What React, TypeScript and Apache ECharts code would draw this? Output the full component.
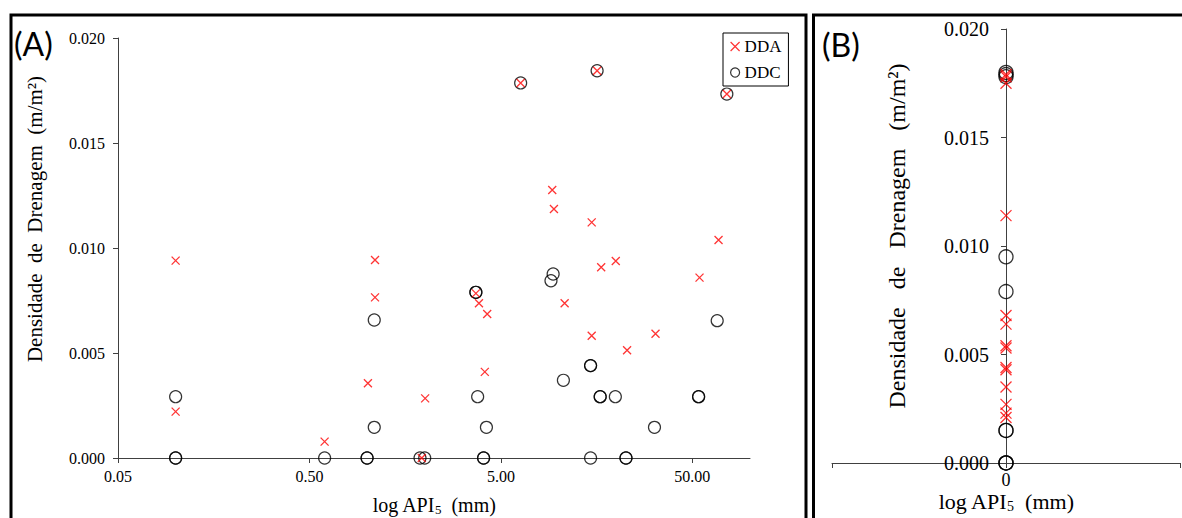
import React, { useEffect, useRef } from "react";
import * as echarts from "echarts";

// ---- Panel (A): log API5 (mm) vs Densidade de Drenagem ----
const apiDDA = [0.1, 0.1, 0.6, 1.1, 1.1, 1.01, 2.01, 1.93, 3.7, 3.84, 4.24, 4.12, 10.76, 16.7, 19.9, 68.5, 54.5, 14.9, 32.1, 22.8, 6.34, 15.9, 75.7, 9.27, 9.46, 14.9];
const ddaA = [0.0094, 0.00221, 0.00078, 0.00943, 0.00765, 0.00356, 0.00284, 0.0, 0.00784, 0.00737, 0.00686, 0.0041, 0.00737, 0.00908, 0.00938, 0.01038, 0.00859, 0.00582, 0.00592, 0.00513, 0.01786, 0.01844, 0.01733, 0.01276, 0.01186, 0.01122];

const apiDDC = [0.1, 0.1, 0.1, 0.6, 1.09, 1.09, 1.0, 1.0, 1.89, 2.0, 3.7, 3.7, 3.78, 4.2, 4.06, 4.06, 9.37, 9.13, 10.6, 14.7, 14.7, 16.5, 16.5, 19.8, 53.9, 53.9, 31.7, 14.7, 22.5, 22.5, 67.4, 6.34, 15.9, 75.7];
const ddcA = [0.00292, 0.0, 0.0, 0.0, 0.00657, 0.00146, 0.0, 0.0, 0.0, 0.0, 0.00789, 0.00789, 0.00292, 0.00146, 0.0, 0.0, 0.00876, 0.00844, 0.0037, 0.0044, 0.0044, 0.00292, 0.00292, 0.00292, 0.00292, 0.00292, 0.00146, 0.0, 0.0, 0.0, 0.00654, 0.01786, 0.01844, 0.01733];

// ---- Panel (B): all points at log API5 = 0 ----
const ddaB = [0.0179, 0.0178, 0.0175, 0.0114, 0.0068, 0.0064, 0.0054, 0.0053, 0.0044, 0.0043, 0.0035, 0.0027, 0.0023, 0.0021];
const ddcB = [0.018, 0.0179, 0.0178, 0.0095, 0.0079, 0.0015, 0.0015, 0.0, 0.0, 0.0];

const xTicksA = [0.05, 0.5, 5, 50];
const seriesNames = ["DDA", "DDC"];

const serif = "'Liberation Serif', 'Times New Roman', serif";
const crossPath = "path://M0,0L10,10M10,0L0,10";
const axisColor = "#404040";

export default function App() {
  const ref = useRef<HTMLDivElement>(null);

  useEffect(() => {
    if (!ref.current) return;
    const chart = echarts.init(ref.current, null, { renderer: "svg" });

    const lineStyle = { color: axisColor, width: 1 };
    const nameStyle = (size: number, subSize: number, pad: number) => ({
      fontFamily: serif,
      fontSize: size,
      color: "#000",
      rich: {
        sub: { fontSize: subSize, fontFamily: serif, color: "#000", padding: [pad, 0, 0, 0] },
      },
    });

    const option: any = {
      animation: false,
      backgroundColor: "#ffffff",
      grid: [
        { left: 118, top: 38, width: 632, height: 420, outerBoundsMode: "none", containLabel: false },
        { left: 832, top: 29, width: 348, height: 434, outerBoundsMode: "none", containLabel: false },
        { left: 1006, top: 29, width: 174, height: 434, outerBoundsMode: "none", containLabel: false },
      ],
      xAxis: [
        {
          type: "log",
          gridIndex: 0,
          logBase: 10,
          min: 0.05,
          max: 100,
          interval: 1,
          axisLine: { show: true, onZero: false, lineStyle },
          axisTick: { show: true, length: 5, lineStyle, customValues: xTicksA },
          axisLabel: {
            customValues: xTicksA,
            fontFamily: serif,
            fontSize: 16,
            color: "#000",
            margin: 10,
            formatter: (v: number) => (v >= 99 ? "" : v.toFixed(2)),
          },
          splitLine: { show: false },
          minorTick: { show: false },
          name: "log API{sub|5}\u00A0 (mm)",
          nameLocation: "middle",
          nameGap: 35,
          nameMoveOverlap: false,
          nameTextStyle: nameStyle(20, 13, 10),
        },
        {
          type: "value",
          gridIndex: 1,
          min: -1,
          max: 1,
          interval: 1,
          axisLine: { show: true, onZero: false, lineStyle },
          axisTick: { show: true, length: 5, lineStyle },
          axisLabel: {
            fontFamily: serif,
            fontSize: 18,
            color: "#000",
            margin: 8,
            formatter: (v: number) => (Math.abs(v) < 1e-9 ? "0" : ""),
          },
          splitLine: { show: false },
          name: "log API{sub|5}\u00A0 (mm)",
          nameLocation: "middle",
          nameGap: 27,
          nameMoveOverlap: false,
          nameTextStyle: nameStyle(22, 14, 9),
        },
        {
          type: "value",
          gridIndex: 2,
          min: 0,
          max: 1,
          show: false,
        },
      ],
      yAxis: [
        {
          type: "value",
          gridIndex: 0,
          min: 0,
          max: 0.02,
          interval: 0.005,
          axisLine: { show: true, onZero: false, lineStyle },
          axisTick: { show: true, length: 5, lineStyle },
          axisLabel: {
            fontFamily: serif,
            fontSize: 16,
            color: "#000",
            margin: 13,
            formatter: (v: number) => v.toFixed(3),
          },
          splitLine: { show: false },
          name: "Densidade\u00A0 de\u00A0 Drenagem\u00A0 (m/m²)",
          nameLocation: "middle",
          nameGap: 73,
          nameMoveOverlap: false,
          nameTextStyle: { fontFamily: serif, fontSize: 21, color: "#000", padding: [0, 0, 0, 58] },
        },
        {
          type: "value",
          gridIndex: 1,
          min: 0,
          max: 0.02,
          show: false,
        },
        {
          type: "value",
          gridIndex: 2,
          min: 0,
          max: 0.02,
          interval: 0.005,
          axisLine: { show: true, onZero: false, lineStyle },
          axisTick: { show: true, length: 5, lineStyle },
          axisLabel: {
            fontFamily: serif,
            fontSize: 20,
            color: "#000",
            margin: 17,
            formatter: (v: number) => v.toFixed(3),
          },
          splitLine: { show: false },
          name: "Densidade\u00A0 \u00A0de\u00A0 \u00A0Drenagem\u00A0 \u00A0(m/m²)",
          nameLocation: "middle",
          nameGap: 97,
          nameMoveOverlap: false,
          nameTextStyle: { fontFamily: serif, fontSize: 24, color: "#000", padding: [0, 0, 0, 20] },
        },
      ],
      legend: {
        data: seriesNames,
        orient: "vertical",
        left: 723,
        top: 33,
        padding: [5, 7, 5, 7],
        itemGap: 9,
        itemWidth: 9,
        itemHeight: 9,
        borderColor: "#000",
        borderWidth: 1,
        backgroundColor: "#fff",
        itemStyle: { borderWidth: 1.2 },
        textStyle: { fontFamily: serif, fontSize: 17, color: "#000" },
      },
      graphic: [
        {
          type: "rect",
          silent: true,
          shape: { x: 11, y: 15, width: 795, height: 530 },
          style: { fill: "none", stroke: "#000", lineWidth: 3 },
        },
        {
          type: "rect",
          silent: true,
          shape: { x: 813.5, y: 15, width: 420, height: 530 },
          style: { fill: "none", stroke: "#000", lineWidth: 3 },
        },
        {
          type: "text",
          left: 14,
          top: 27,
          style: { text: "(A)", font: "32px Lato", fill: "#000" },
        },
        {
          type: "text",
          left: 822,
          top: 28,
          style: { text: "(B)", font: "32px Lato", fill: "#000" },
        },
      ],
      series: [
        {
          type: "scatter",
          name: seriesNames[0],
          xAxisIndex: 0,
          yAxisIndex: 0,
          symbol: crossPath,
          symbolSize: 8,
          itemStyle: { color: "rgba(0,0,0,0)", borderColor: "#ff0000", borderWidth: 1.3 },
          data: apiDDA.map((x, i) => [x, ddaA[i]]),
          z: 3,
        },
        {
          type: "scatter",
          name: seriesNames[1],
          xAxisIndex: 0,
          yAxisIndex: 0,
          symbol: "circle",
          symbolSize: 12,
          itemStyle: { color: "rgba(0,0,0,0)", borderColor: "#000", borderWidth: 1.2 },
          data: apiDDC.map((x, i) => [x, ddcA[i]]),
          z: 2,
        },
        {
          type: "scatter",
          name: seriesNames[0],
          xAxisIndex: 2,
          yAxisIndex: 2,
          symbol: crossPath,
          symbolSize: 11,
          itemStyle: { color: "rgba(0,0,0,0)", borderColor: "#ff0000", borderWidth: 1.3 },
          data: ddaB.map((v) => [0, v]),
          z: 3,
        },
        {
          type: "scatter",
          name: seriesNames[1],
          xAxisIndex: 2,
          yAxisIndex: 2,
          symbol: "circle",
          symbolSize: 14,
          itemStyle: { color: "rgba(0,0,0,0)", borderColor: "#000", borderWidth: 1.3 },
          data: ddcB.map((v) => [0, v]),
          z: 2,
        },
      ],
    };

    chart.setOption(option);
    return () => chart.dispose();
  }, []);

  return (
    <div
      ref={ref}
      style={{ position: "fixed", left: 0, top: 0, width: 1182, height: 518, background: "#fff" }}
    />
  );
}
